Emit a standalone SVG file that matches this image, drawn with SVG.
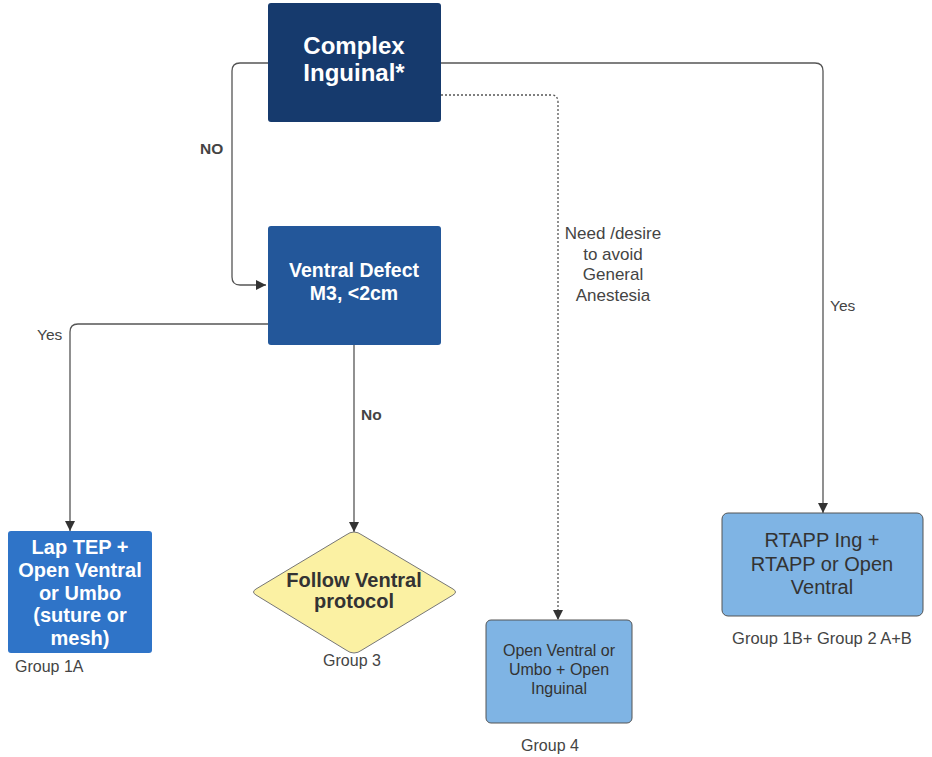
<svg xmlns="http://www.w3.org/2000/svg" width="932" height="757" viewBox="0 0 932 757">
<defs>
<marker id="arr" viewBox="0 0 10 10" refX="10" refY="5" markerWidth="10" markerHeight="10" markerUnits="userSpaceOnUse" orient="auto">
<path d="M0,0 L10,5 L0,10 z" fill="#333"/>
</marker>
<style>
.b{font-family:"Liberation Sans",Arial,sans-serif;font-weight:bold;fill:#fff;text-anchor:middle}
.r{font-family:"Liberation Sans",Arial,sans-serif;fill:#333;text-anchor:middle}
.lbl{font-family:"Liberation Sans",Arial,sans-serif;fill:#444;font-size:16px}
.c{fill:none;stroke:#555;stroke-width:1.3}
</style>
</defs>
<rect width="932" height="757" fill="#fff"/>
<g id="connectors">
<path class="c" d="M268,63 H240 Q232,63 232,71 V277 Q232,285 240,285 H266" marker-end="url(#arr)"/>
<path class="c" d="M441,63 H815 Q823,63 823,71 V513" marker-end="url(#arr)"/>
<path class="c" d="M441,95 H551 Q558,95 558,102 V620" stroke-dasharray="2,2" marker-end="url(#arr)"/>
<path class="c" d="M268,324 H78 Q70,324 70,332 V531" marker-end="url(#arr)"/>
<path class="c" d="M354,345 V532" marker-end="url(#arr)"/>
<text class="lbl" x="200" y="154" font-weight="bold" style="font-size:15.5px">NO</text>
<text class="lbl" x="37" y="340" style="font-size:15.5px">Yes</text>
<text class="lbl" x="361" y="420" font-weight="bold" style="font-size:15.5px">No</text>
<text class="lbl" x="830" y="311" style="font-size:15.5px">Yes</text>
<text class="lbl" x="613" y="239" text-anchor="middle" style="font-size:17px">Need /desire</text>
<text class="lbl" x="613" y="260" text-anchor="middle" style="font-size:17px">to avoid</text>
<text class="lbl" x="613" y="280" text-anchor="middle" style="font-size:17px">General</text>
<text class="lbl" x="613" y="301" text-anchor="middle" style="font-size:17px">Anestesia</text>
</g>
<g id="complex">
<rect x="268" y="3" width="173" height="119" rx="3" fill="#163a6d"/>
<text class="b" x="354" y="54" font-size="24">Complex</text>
<text class="b" x="354" y="81" font-size="24">Inguinal*</text>
</g>
<g id="ventral">
<rect x="268" y="226" width="173" height="119" rx="3" fill="#23579a"/>
<text class="b" x="354" y="277" font-size="19.5">Ventral Defect</text>
<text class="b" x="354" y="300" font-size="19.5">M3, &lt;2cm</text>
</g>
<g id="laptep">
<rect x="8" y="531" width="144" height="122" rx="3" fill="#2f74c8"/>
<text class="b" x="80" y="554" font-size="20">Lap TEP +</text>
<text class="b" x="80" y="577" font-size="20">Open Ventral</text>
<text class="b" x="80" y="600" font-size="20">or Umbo</text>
<text class="b" x="80" y="622" font-size="20">(suture or</text>
<text class="b" x="80" y="645" font-size="20">mesh)</text>
<text class="lbl" x="15" y="672">Group 1A</text>
</g>
<g id="follow">
<path d="M354,532 Q358,532 362,535 L453,589 Q458,592 453,595 L362,650 Q358,653 354,653 Q350,653 346,650 L256,595 Q251,592 256,589 L346,535 Q350,532 354,532 z" fill="#fbf1a3" stroke="#777" stroke-width="1"/>
<text class="b" x="354" y="587" font-size="20" style="fill:#333">Follow Ventral</text>
<text class="b" x="354" y="608" font-size="20" style="fill:#333">protocol</text>
<text class="lbl" x="352" y="666" text-anchor="middle">Group 3</text>
</g>
<g id="group4">
<rect x="486" y="620" width="146" height="103" rx="5" fill="#7fb4e4" stroke="#555" stroke-width="1"/>
<text class="r" x="559" y="656" font-size="16">Open Ventral or</text>
<text class="r" x="559" y="675" font-size="16">Umbo + Open</text>
<text class="r" x="559" y="694" font-size="16">Inguinal</text>
<text class="lbl" x="550" y="751" text-anchor="middle">Group 4</text>
</g>
<g id="rtapp">
<rect x="722" y="513" width="201" height="103" rx="6" fill="#7fb4e4" stroke="#555" stroke-width="1"/>
<text class="r" x="822" y="547" font-size="20">RTAPP Ing +</text>
<text class="r" x="822" y="571" font-size="20">RTAPP or Open</text>
<text class="r" x="822" y="594" font-size="20">Ventral</text>
<text class="lbl" x="822" y="644" text-anchor="middle" style="font-size:16.5px">Group 1B+ Group 2 A+B</text>
</g>
</svg>
